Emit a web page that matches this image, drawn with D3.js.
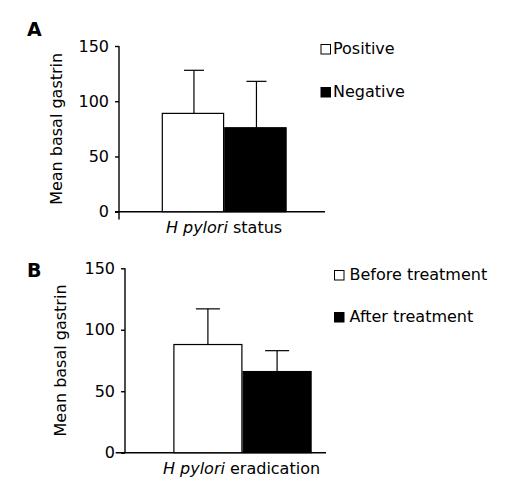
<!DOCTYPE html>
<html><head><meta charset="utf-8">
<script src="https://cdn.jsdelivr.net/npm/d3@7"></script>
<style>body{margin:0;background:#fff}svg{display:block}text{font-family:"DejaVu Sans",Verdana,sans-serif;fill:#000}</style>
</head><body>
<script>
const panelLabels = ["A", "B"];
const xTitlesPre = ["H pylori", "H pylori"];
const xTitlesPost = [" status", " eradication"];
const seriesNamesA = ["Positive", "Negative"];
const seriesNamesB = ["Before treatment", "After treatment"];
const meansA = [89, 76];
const errTopA = [128, 118];
const meansB = [88, 66];
const errTopB = [117, 83];
const yTicks = [0, 50, 100, 150];
const fills = ["#fff", "#000"];

const svg = d3.select("body").append("svg").attr("width", 512).attr("height", 493);
const fs = 16;

function panel(cfg) {
  const g = svg.append("g");
  const y = d3.scaleLinear().domain([0, 150]).range([cfg.y0, cfg.y150]);
  const x = d3.scaleBand().domain(cfg.names).range([cfg.b0, cfg.b1]).padding(0);
  const ya = d3.axisLeft(y).tickValues(yTicks).tickSize(4).tickPadding(6);
  const yg = g.append("g").attr("transform", `translate(${cfg.ax},0)`).call(ya);
  yg.select(".domain").remove();
  yg.selectAll("line").attr("stroke", "#000").attr("stroke-width", 1.4);
  yg.selectAll("text").style("font-size", fs + "px");
  g.append("line").attr("x1", cfg.ax).attr("x2", cfg.ax).attr("y1", y(150)).attr("y2", cfg.yAxisBottom)
    .attr("stroke", "#000").attr("stroke-width", 1.4);
  g.append("line").attr("x1", cfg.xStart).attr("x2", cfg.xEnd).attr("y1", y(0)).attr("y2", y(0))
    .attr("stroke", "#000").attr("stroke-width", 1.4);
  cfg.names.forEach((n, i) => {
    const cx = x(n) + x.bandwidth() / 2 + cfg.errOff;
    g.append("line").attr("x1", cx).attr("x2", cx).attr("y1", y(cfg.means[i])).attr("y2", y(cfg.err[i]))
      .attr("stroke", "#000").attr("stroke-width", 1.2);
    g.append("line").attr("x1", cx - cfg.cap).attr("x2", cx + cfg.cap).attr("y1", y(cfg.err[i])).attr("y2", y(cfg.err[i]))
      .attr("stroke", "#000").attr("stroke-width", 1.2);
  });
  g.selectAll("rect.bar").data(cfg.means).join("rect")
    .attr("x", (d, i) => x(cfg.names[i]) + 0.6).attr("width", x.bandwidth() - 1.2)
    .attr("y", d => y(d)).attr("height", d => y(0) - y(d))
    .attr("fill", (d, i) => fills[i]).attr("stroke", "#000").attr("stroke-width", 1.2);
  g.append("text").attr("transform", `translate(${cfg.ytx},${(y(0) + y(150)) / 2}) rotate(-90)`)
    .attr("text-anchor", "middle").style("font-size", fs + "px").text("Mean basal gastrin");
  const xt = g.append("text").attr("x", cfg.xtx).attr("y", cfg.xty).attr("text-anchor", "middle").style("font-size", fs + "px");
  xt.append("tspan").style("font-style", "italic").text(cfg.xpre);
  xt.append("tspan").text(cfg.xpost);
  g.append("text").attr("x", cfg.lx).attr("y", cfg.ly).style("font-size", "19px").style("font-weight", "bold").text(cfg.letter);
  cfg.names.forEach((n, i) => {
    const ly = cfg.legY[i];
    g.append("rect").attr("x", cfg.legX).attr("y", ly - 9).attr("width", 9.5).attr("height", 9.5)
      .attr("fill", fills[i]).attr("stroke", "#000").attr("stroke-width", 1);
    g.append("text").attr("x", cfg.legX + cfg.legGap).attr("y", ly).style("font-size", fs + "px").text(n);
  });
}

panel({names: seriesNamesA, means: meansA, err: errTopA, y0: 211.7, y150: 46, ax: 119, yAxisBottom: 219.5,
  xStart: 115, xEnd: 325, b0: 161.7, b1: 286.7, errOff: 1, cap: 10, ytx: 62, xtx: 224, xty: 233,
  xpre: xTitlesPre[0], xpost: xTitlesPost[0], letter: panelLabels[0], lx: 27, ly: 36, legX: 321, legGap: 12, legY: [53.5, 96.5]});
panel({names: seriesNamesB, means: meansB, err: errTopB, y0: 452.7, y150: 268.3, ax: 125, yAxisBottom: 452.7,
  xStart: 115.7, xEnd: 326, b0: 173.3, b1: 311.7, errOff: 0, cap: 12, ytx: 66, xtx: 241.5, xty: 474,
  xpre: xTitlesPre[1], xpost: xTitlesPost[1], letter: panelLabels[1], lx: 27, ly: 277, legX: 334.5, legGap: 15, legY: [279.5, 321.5]});
</script>
</body></html>
